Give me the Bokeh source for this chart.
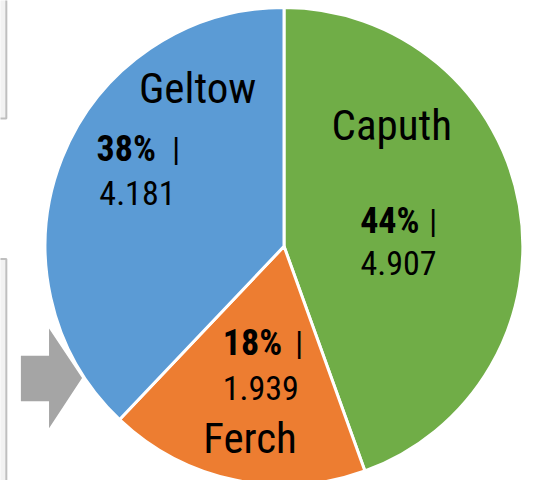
import numpy as np
from bokeh.plotting import figure
from bokeh.models import Range1d
from bokeh.embed import file_html
from bokeh.resources import INLINE
from bokeh.core.properties import value

# ---- data ----
places = ["Caputh", "Ferch", "Geltow"]
counts = [4907, 1939, 4181]
count_labels = ["4.907", "1.939", "4.181"]
colors = ["#70ad47", "#ed7d31", "#5b9bd5"]

# ---- layout (reference pixel coords, y measured downward) ----
W, H = 534, 480
REF_W, REF_H = 550, 496
cx_pix, cy_pix, radius = 292, 254, 246
name_pos = [(403, 143), (257, 467), (203, 105)]      # centre x, baseline y
pct_pos = [(401, 239), (259.5, 365), (129.5, 165)]
bar_pos = [(445.5, 239), (307.5, 365), (181, 165)]
cnt_pos = [(410, 283), (268, 412), (141, 210)]
FONT = "Roboto Condensed, Roboto, sans-serif"
NAME_PX, NUM_PX, PCT_PX = 43, 34, 36
BASE_SHIFT = 0.33  # empirical baseline correction, fraction of font size


def fy(y):
    return REF_H - y


def ys(pos, px):
    return [fy(q[1] - BASE_SHIFT * px * REF_H / H) for q in pos]


total = float(sum(counts))
fracs = np.array(counts) / total
pct_labels = [f"{round(f * 100):d}%" for f in fracs]
cum = np.concatenate([[0], np.cumsum(fracs)])
starts = np.pi / 2 - 2 * np.pi * cum[:-1]
ends = np.pi / 2 - 2 * np.pi * cum[1:]

p = figure(width=W, height=H, output_backend="svg", toolbar_location=None,
           x_range=Range1d(0, REF_W), y_range=Range1d(0, REF_H),
           min_border=0, min_border_left=0, min_border_right=0,
           min_border_top=0, min_border_bottom=0)
p.axis.visible = False
p.xgrid.visible = False
p.ygrid.visible = False
p.outline_line_color = None
p.background_fill_color = "white"

# decorative side boxes and arrow
p.quad(left=[-5, -5], right=[6, 6], top=[fy(-5), fy(267)], bottom=[fy(122), fy(505)],
       fill_color="#f2f2f2", line_color="#bfbfbf", line_width=2)
arrow_x = [21, 50, 50, 84, 50, 50, 21]
arrow_y = [367, 367, 339, 390, 442, 414, 414]
p.patch(arrow_x, [fy(v) for v in arrow_y], fill_color="#a5a5a5", line_color=None)

# pie
p.wedge(x=cx_pix, y=fy(cy_pix), radius=radius,
        start_angle=list(starts), end_angle=list(ends), direction="clock",
        fill_color=colors, line_color="white", line_width=3)

# labels
p.text(x=[q[0] for q in name_pos], y=ys(name_pos, NAME_PX), text=places,
       text_font=value(FONT), text_font_size=f"{NAME_PX}px", text_align="center",
       text_baseline="alphabetic", text_color="black")
p.text(x=[q[0] for q in pct_pos], y=ys(pct_pos, NUM_PX), text=pct_labels,
       text_font=value(FONT), text_font_size=f"{PCT_PX}px", text_font_style="bold",
       text_align="center", text_baseline="alphabetic", text_color="black")
p.text(x=[q[0] for q in bar_pos], y=ys(bar_pos, NUM_PX), text=["|"] * 3,
       text_font=value(FONT), text_font_size=f"{NUM_PX}px", text_align="center",
       text_baseline="alphabetic", text_color="black")
p.text(x=[q[0] for q in cnt_pos], y=ys(cnt_pos, NUM_PX), text=count_labels,
       text_font=value(FONT), text_font_size=f"{NUM_PX}px", text_align="center",
       text_baseline="alphabetic", text_color="black")

open("out.html", "w").write(file_html(p, INLINE))
